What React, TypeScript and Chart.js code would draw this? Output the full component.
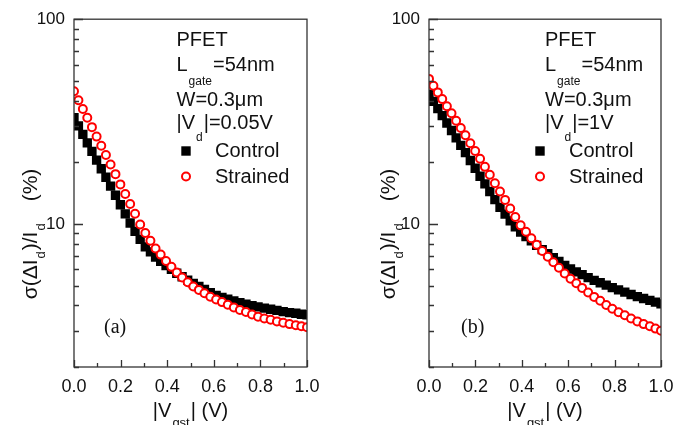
import React, { useEffect, useRef } from 'react';
import { Chart, registerables } from 'chart.js';

Chart.register(...registerables);

// ---------------- data ----------------
const vgst = [
  0.0, 0.019, 0.038, 0.057, 0.077, 0.097, 0.117, 0.137, 0.157, 0.178, 0.199, 0.22, 0.241, 0.262, 0.284,
  0.306, 0.328, 0.35, 0.372, 0.395, 0.418, 0.441, 0.464, 0.488, 0.512, 0.536, 0.56, 0.585, 0.61, 0.635,
  0.66, 0.686, 0.712, 0.738, 0.764, 0.79, 0.817, 0.844, 0.871, 0.898, 0.925, 0.952, 0.976, 1.0,
];

const controlA = [
  33.0, 30.1, 27.4, 24.9, 22.6, 20.5, 18.6, 16.9, 15.3, 13.8, 12.4, 11.2, 10.1, 9.2, 8.4,
  7.73, 7.3, 6.89, 6.57, 6.26, 6.0, 5.74, 5.52, 5.31, 5.12, 4.95, 4.79, 4.61, 4.48, 4.38,
  4.29, 4.2, 4.12, 4.06, 3.99, 3.93, 3.88, 3.83, 3.78, 3.73, 3.69, 3.66, 3.62, 3.6,
];
const strainedA = [
  44.5, 40.2, 36.4, 33.0, 29.7, 26.7, 24.1, 21.7, 19.5, 17.5, 15.6, 14.0, 12.5, 11.2, 9.93,
  9.02, 8.27, 7.59, 7.08, 6.59, 6.17, 5.79, 5.47, 5.19, 4.95, 4.76, 4.58, 4.41, 4.27, 4.15,
  4.03, 3.91, 3.8, 3.71, 3.61, 3.52, 3.45, 3.4, 3.34, 3.29, 3.24, 3.2, 3.16, 3.13,
];
const controlB = [
  43.0, 39.7, 36.6, 33.8, 31.1, 28.6, 26.3, 24.2, 22.3, 20.4, 18.7, 17.1, 15.7, 14.4, 13.15,
  12.05, 11.17, 10.35, 9.69, 9.13, 8.68, 8.26, 7.86, 7.49, 7.15, 6.85, 6.56, 6.27, 6.02, 5.83,
  5.65, 5.47, 5.3, 5.16, 5.02, 4.88, 4.76, 4.64, 4.52, 4.41, 4.32, 4.23, 4.15, 4.07,
];
const strainedB = [
  51.1, 47.3, 43.9, 40.7, 37.6, 34.7, 31.9, 29.4, 27.1, 24.8, 22.7, 20.8, 19.0, 17.4, 15.8,
  14.4, 13.1, 11.9, 10.8, 9.84, 9.15, 8.51, 7.91, 7.38, 6.91, 6.5, 6.11, 5.73, 5.4, 5.13,
  4.87, 4.62, 4.4, 4.21, 4.02, 3.85, 3.7, 3.58, 3.45, 3.34, 3.24, 3.16, 3.08, 3.01,
];

const seriesNames = ['Control', 'Strained'];
const panelLabels = ['(a)', '(b)'];
const drainBias = ['0.05V', '1V'];
const xMajorTicks = [0, 0.2, 0.4, 0.6, 0.8, 1.0];
const xMinorTicks = [0.1, 0.3, 0.5, 0.7, 0.9];
const yMajorTicks = [10, 100];
const yMinorTicks = [2, 3, 4, 5, 6, 7, 8, 9, 20, 30, 40, 50, 60, 70, 80, 90];

// ---------------- layout ----------------
const SANS = "'Liberation Sans', Arial, sans-serif";
const SERIF = "'Liberation Serif', 'Times New Roman', serif";

const layouts = [
  { left: 0, width: 345, axisW: 74, padR: 38, titleX: 37, annX: 176.5, markX: 186, legX: 215, labelX: 104 },
  { left: 345, width: 344, axisW: 84, padR: 28, titleX: 50, annX: 200, markX: 195, legX: 224, labelX: 116 },
];
const HEIGHT = 425;

type Part = { t: string; sub?: boolean; gap?: number };

function partsWidth(ctx: CanvasRenderingContext2D, parts: Part[], font: string, subFont: string) {
  let w = 0;
  for (const p of parts) {
    ctx.font = p.sub ? subFont : font;
    w += ctx.measureText(p.t).width + (p.gap || 0);
  }
  return w;
}

function drawParts(
  ctx: CanvasRenderingContext2D,
  x: number,
  y: number,
  parts: Part[],
  font: string,
  subFont: string,
  subDy: number
) {
  let cx = x;
  for (const p of parts) {
    ctx.font = p.sub ? subFont : font;
    ctx.fillText(p.t, cx, p.sub ? y + subDy : y);
    cx += ctx.measureText(p.t).width + (p.gap || 0);
  }
}

function makeDecor(idx: number) {
  const L = layouts[idx];
  return {
    id: 'decor' + idx,
    afterDatasetsDraw(chart: any) {
      const { ctx, chartArea: a, scales } = chart;
      const xs = scales.x;
      const ys = scales.y;
      ctx.save();
      // frame
      ctx.strokeStyle = '#333';
      ctx.lineWidth = 1.3;
      ctx.strokeRect(a.left, a.top, a.right - a.left, a.bottom - a.top);
      // inner ticks
      ctx.beginPath();
      xMajorTicks.forEach((v) => {
        const px = Math.round(xs.getPixelForValue(v)) + 0.5;
        ctx.moveTo(px, a.bottom);
        ctx.lineTo(px, a.bottom - 7);
      });
      xMinorTicks.forEach((v) => {
        const px = Math.round(xs.getPixelForValue(v)) + 0.5;
        ctx.moveTo(px, a.bottom);
        ctx.lineTo(px, a.bottom - 4);
      });
      yMajorTicks.forEach((v) => {
        const py = Math.round(ys.getPixelForValue(v)) + 0.5;
        ctx.moveTo(a.left, py);
        ctx.lineTo(a.left + 9, py);
      });
      yMinorTicks.forEach((v) => {
        const py = Math.round(ys.getPixelForValue(v)) + 0.5;
        ctx.moveTo(a.left, py);
        ctx.lineTo(a.left + 5, py);
      });
      ctx.stroke();

      // annotation block
      ctx.fillStyle = '#111';
      ctx.textAlign = 'left';
      ctx.textBaseline = 'alphabetic';
      const f20 = '20px ' + SANS;
      const f12 = '12px ' + SANS;
      drawParts(ctx, L.annX, 46, [{ t: 'PFET' }], f20, f12, 0);
      drawParts(ctx, L.annX, 71, [{ t: 'L', gap: 1 }, { t: 'gate', sub: true, gap: 1 }, { t: '=54nm' }], f20, f12, 14);
      drawParts(ctx, L.annX, 105.5, [{ t: 'W=0.3μm' }], f20, f12, 0);
      drawParts(ctx, L.annX, 128.5, [{ t: '|V', gap: 1 }, { t: 'd', sub: true, gap: 1 }, { t: '|=' + drainBias[idx] }], f20, f12, 12);

      // legend
      ctx.fillStyle = '#000';
      ctx.fillRect(L.markX - 4.7, 151 - 4.7, 9.4, 9.4);
      ctx.beginPath();
      ctx.arc(L.markX, 176.5, 4, 0, Math.PI * 2);
      ctx.fillStyle = '#fff';
      ctx.fill();
      ctx.strokeStyle = '#ff0000';
      ctx.lineWidth = 2;
      ctx.stroke();
      ctx.fillStyle = '#111';
      ctx.font = f20;
      ctx.fillText(seriesNames[0], L.legX, 157);
      ctx.fillText(seriesNames[1], L.legX, 182.5);

      // panel label
      ctx.font = '20px ' + SERIF;
      ctx.fillText(panelLabels[idx], L.labelX, 333);

      // x title
      const xParts: Part[] = [{ t: '|V', gap: 1 }, { t: 'gst', sub: true, gap: 1 }, { t: '| (V)' }];
      const xf = '20px ' + SANS;
      const xsf = '13px ' + SANS;
      const xw = partsWidth(ctx, xParts, xf, xsf);
      drawParts(ctx, (a.left + a.right) / 2 - xw / 2, 417, xParts, xf, xsf, 10);

      // y title (rotated)
      const yParts: Part[] = [
        { t: 'σ(ΔI', gap: 1 },
        { t: 'd', sub: true, gap: 1 },
        { t: ')/I', gap: 1 },
        { t: 'd', sub: true, gap: 22 },
        { t: '(%)' },
      ];
      const yf = '21px ' + SANS;
      const ysf = '13px ' + SANS;
      const yw = partsWidth(ctx, yParts, yf, ysf);
      ctx.translate(L.titleX, 234);
      ctx.rotate(-Math.PI / 2);
      drawParts(ctx, -yw / 2, 0, yParts, yf, ysf, 8);
      ctx.restore();
    },
  };
}

function Panel({ idx, control, strained }: { idx: number; control: number[]; strained: number[] }) {
  const ref = useRef<HTMLCanvasElement | null>(null);
  const L = layouts[idx];
  useEffect(() => {
    if (!ref.current) return;
    const chart = new Chart(ref.current, {
      type: 'scatter',
      data: {
        datasets: [
          {
            label: seriesNames[0],
            data: vgst.map((x, i) => ({ x, y: control[i] })),
            pointStyle: 'rect',
            pointRadius: 6.6,
            pointBackgroundColor: '#000',
            pointBorderColor: '#000',
            pointBorderWidth: 0,
            showLine: false,
            order: 2,
          },
          {
            label: seriesNames[1],
            data: vgst.map((x, i) => ({ x, y: strained[i] })),
            pointStyle: 'circle',
            pointRadius: 4,
            pointBackgroundColor: '#fff',
            pointBorderColor: '#ff0000',
            pointBorderWidth: 2,
            showLine: false,
            order: 1,
          },
        ],
      },
      options: {
        responsive: false,
        animation: false,
        devicePixelRatio: 1,
        layout: { padding: { left: 0, top: 14, right: L.padR, bottom: 0 } },
        plugins: { legend: { display: false }, tooltip: { enabled: false } },
        scales: {
          x: {
            type: 'linear',
            min: 0,
            max: 1,
            grid: { display: false, drawTicks: false },
            border: { display: false },
            afterBuildTicks: (s: any) => {
              s.ticks = xMajorTicks.map((v) => ({ value: v }));
            },
            afterFit: (s: any) => {
              s.height = HEIGHT - 367;
            },
            ticks: {
              padding: 9,
              color: '#111',
              font: { family: SANS, size: 18 },
              maxRotation: 0,
              autoSkip: false,
              callback: (v: any) => Number(v).toFixed(1),
            },
          },
          y: {
            type: 'logarithmic',
            min: 2,
            max: 100,
            grid: { display: false, drawTicks: false },
            border: { display: false },
            afterBuildTicks: (s: any) => {
              s.ticks = yMajorTicks.map((v) => ({ value: v }));
            },
            afterFit: (s: any) => {
              s.width = L.axisW;
            },
            ticks: {
              padding: 9,
              color: '#111',
              font: { family: SANS, size: 17 },
              autoSkip: false,
              callback: (v: any) => String(v),
            },
          },
        },
      },
      plugins: [makeDecor(idx)],
    } as any);
    return () => chart.destroy();
  }, []);
  return (
    <canvas
      ref={ref}
      width={L.width}
      height={HEIGHT}
      style={{ position: 'absolute', left: L.left, top: 0, width: L.width, height: HEIGHT }}
    />
  );
}

export default function App() {
  return (
    <div style={{ position: 'absolute', left: 0, top: 0, width: 689, height: HEIGHT, background: '#fff' }}>
      <Panel idx={0} control={controlA} strained={strainedA} />
      <Panel idx={1} control={controlB} strained={strainedB} />
    </div>
  );
}
